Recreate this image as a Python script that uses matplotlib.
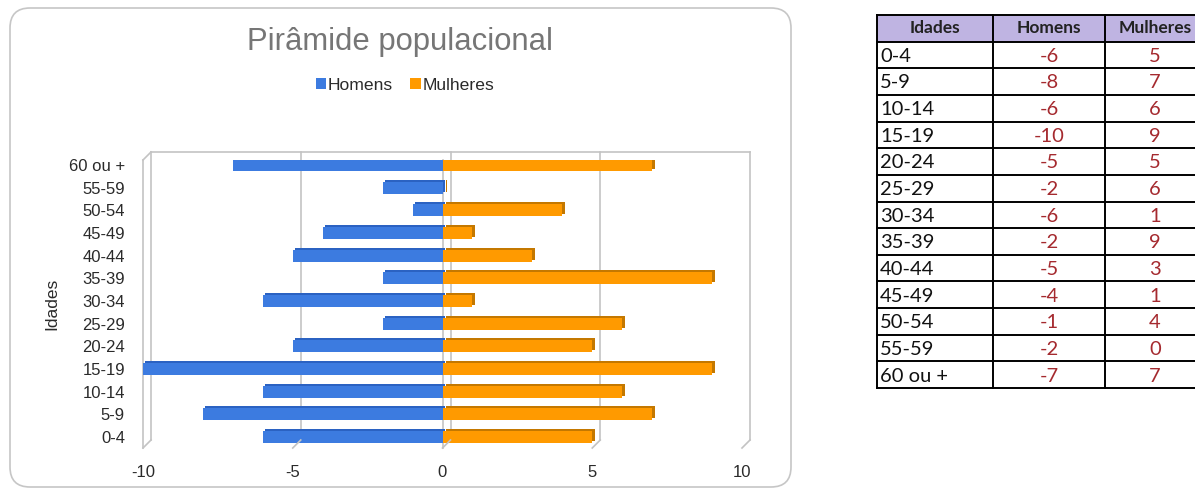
import numpy as np
import matplotlib.pyplot as plt
from matplotlib.patches import FancyBboxPatch, Rectangle
from matplotlib.lines import Line2D
from matplotlib.transforms import ScaledTranslation

idades = ['0-4', '5-9', '10-14', '15-19', '20-24', '25-29', '30-34',
          '35-39', '40-44', '45-49', '50-54', '55-59', '60 ou +']
homens = [-6, -8, -6, -10, -5, -2, -6, -2, -5, -4, -1, -2, -7]
mulheres = [5, 7, 6, 9, 5, 6, 1, 9, 3, 1, 4, 0, 7]
x_ticks = [-10, -5, 0, 5, 10]

W, H = 1195, 488
DPI = 100
plt.rcParams['font.family'] = ['Liberation Sans', 'DejaVu Sans']

fig = plt.figure(figsize=(W / DPI, H / DPI), dpi=DPI)


def px(x0, y0, x1, y1):
    # pixel box (origin top-left) -> figure fraction rect
    return [x0 / W, 1 - y1 / H, (x1 - x0) / W, (y1 - y0) / H]


# rounded chart frame
frame = FancyBboxPatch((10 / DPI, (H - 487) / DPI), 781 / DPI, 479 / DPI,
                       boxstyle='round,pad=0,rounding_size=0.2',
                       transform=fig.dpi_scale_trans, facecolor='white',
                       edgecolor='#c6c6c6', linewidth=1.2, zorder=-5)
fig.patches.append(frame)

ax = fig.add_axes(px(143, 160, 742, 448))
ax.set_xlim(-10, 10)
ax.set_ylim(-0.485, 12.22)
for s in ax.spines.values():
    s.set_visible(False)
ax.patch.set_alpha(0)

grid_c = '#c3c3c3'
depth = ScaledTranslation(8 / DPI, 8 / DPI, fig.dpi_scale_trans)
xa = ax.get_xaxis_transform()

# back wall and floor of the 3d box
line_kw = dict(color=grid_c, lw=1.2, clip_on=False, zorder=0.5)
for xv in x_ticks:
    ax.plot([xv, xv], [0, 1], transform=xa + depth, **line_kw)
ax.plot([-10, -10], [0, 1], transform=xa, **line_kw)
ax.plot([0, 0], [0, 1], transform=xa, **line_kw)
ax.plot([-10, 10], [1, 1], transform=xa + depth, **line_kw)
fig.canvas.draw()
corners = [(xv, 0) for xv in x_ticks] + [(-10, 1)]
for c in corners:
    p0 = xa.transform(c)
    p1 = (xa + depth).transform(c)
    fig.lines.append(Line2D([p0[0], p1[0]], [p0[1], p1[1]], color=grid_c, lw=1.2,
                            transform=None))

# bars with a darker top/side face for the 3d look
y = np.arange(len(idades))
h = 0.53
face_h = ScaledTranslation(2 / DPI, 2 / DPI, fig.dpi_scale_trans)
face_m = ScaledTranslation(3 / DPI, 2 / DPI, fig.dpi_scale_trans)
ax.barh(y, homens, height=h, color='#2b62c2', transform=ax.transData + face_h,
        zorder=1.5)
ax.barh(y, [m if m else 0.05 for m in mulheres], height=h, color='#c47800',
        transform=ax.transData + face_m, zorder=1.5)
b_h = ax.barh(y, homens, height=h, color='#3c7be0', label='Homens', zorder=2)
b_m = ax.barh(y, mulheres, height=h, color='#ff9a00', label='Mulheres', zorder=2)

ax.set_xticks(x_ticks)
ax.set_xticklabels([str(v) for v in x_ticks])
ax.set_yticks(y)
ax.set_yticklabels(idades)
ax.tick_params(axis='x', length=0, pad=12, labelsize=12, labelcolor='#2a2a2a')
ax.tick_params(axis='y', length=0, pad=13, labelsize=12, labelcolor='#2a2a2a')
ax.set_ylabel('Idades', fontsize=12.5, color='#2a2a2a')
ax.yaxis.set_label_coords(-0.139, 0.5)

fig.text(400 / W, 1 - 42 / H, 'Pirâmide populacional', ha='center', va='center',
         fontsize=22.3, color='#767676')
fig.legend([b_h, b_m], ['Homens', 'Mulheres'], loc='center',
           bbox_to_anchor=(405 / W, 1 - 85 / H), ncol=2, frameon=False,
           handlelength=0.6, handleheight=0.6, handletextpad=0.1,
           columnspacing=1.0, fontsize=12.6, labelcolor='#2a2a2a')

# data table
tax = fig.add_axes(px(877, 15, 1205, 388))
col_edges = [0, 116, 228, 328]
n_rows = len(idades) + 1
tax.set_xlim(0, 328)
tax.set_ylim(n_rows, 0)
tax.axis('off')
tax.add_patch(Rectangle((0, 0), 328, 1, facecolor='#bfb4e2', edgecolor='none'))
for r in range(n_rows + 1):
    tax.plot([0, 328], [r, r], color='black', lw=1.4, clip_on=False)
for c in col_edges:
    tax.plot([c, c], [0, n_rows], color='black', lw=1.4, clip_on=False)

tfont = ['Lato', 'DejaVu Sans']
for j, name in enumerate(['Idades', 'Homens', 'Mulheres']):
    tax.text((col_edges[j] + col_edges[j + 1]) / 2, 0.5, name, ha='center',
             va='center', fontsize=12.5, fontweight='bold', family=tfont,
             color='#222222')
val_c = '#a52a2f'
for i, (a, hm, ml) in enumerate(zip(idades, homens, mulheres)):
    r = i + 1.55
    tax.text(3, r, a, ha='left', va='center', fontsize=14.5, family=tfont,
             color='#111111')
    tax.text(172, r, str(hm), ha='center', va='center', fontsize=14.5,
             family=tfont, color=val_c)
    tax.text(278, r, str(ml), ha='center', va='center', fontsize=14.5,
             family=tfont, color=val_c)

fig.savefig('out.png', dpi=DPI)
